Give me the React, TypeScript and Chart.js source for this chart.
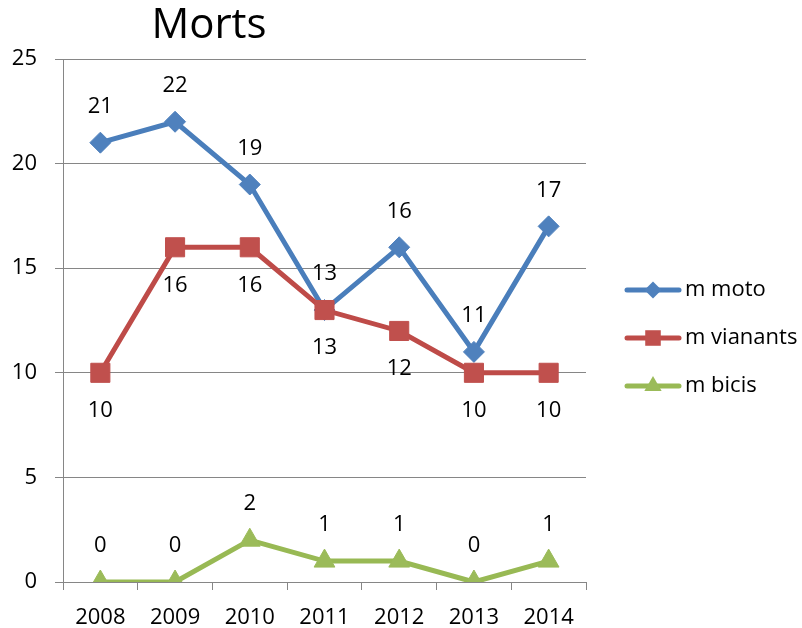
import React, { useEffect, useRef } from 'react';
import { Chart, registerables } from 'chart.js';

Chart.register(...registerables);

const chartTitle = 'Morts';
const years = ['2008', '2009', '2010', '2011', '2012', '2013', '2014'];
const seriesNames = ['m moto', 'm vianants', 'm bicis'];
const moto = [21, 22, 19, 13, 16, 11, 17];
const vianants = [10, 16, 16, 13, 12, 10, 10];
const bicis = [0, 0, 2, 1, 1, 0, 1];
const yMin = 0;
const yMax = 25;
const yStep = 5;

const FONT = "'Open Sans', 'Liberation Sans', sans-serif";
const lineColors = ['#4A7EBB', '#BE4B48', '#98B954'];
const markerColors = ['#4F81BD', '#C0504D', '#9BBB59'];
const pointStyles = ['rectRot', 'rect', 'triangle'];
const pointRadii = [10.5, 13.5, 12];
const labelOffsets = [-36, 38, -36];
const GRID = '#868686';

function drawMarker(ctx: CanvasRenderingContext2D, style: string, x: number, y: number, r: number) {
  ctx.beginPath();
  if (style === 'rectRot') {
    ctx.moveTo(x - r, y);
    ctx.lineTo(x, y - r);
    ctx.lineTo(x + r, y);
    ctx.lineTo(x, y + r);
  } else if (style === 'rect') {
    const s = Math.SQRT1_2 * r;
    ctx.rect(x - s, y - s, 2 * s, 2 * s);
  } else {
    let a = 0;
    ctx.moveTo(x + Math.sin(a) * r, y - Math.cos(a) * r);
    a += (2 * Math.PI) / 3;
    ctx.lineTo(x + Math.sin(a) * r, y - Math.cos(a) * r);
    a += (2 * Math.PI) / 3;
    ctx.lineTo(x + Math.sin(a) * r, y - Math.cos(a) * r);
  }
  ctx.closePath();
  ctx.fill();
}

const titlePlugin = {
  id: 'customTitle',
  afterDraw(chart: any) {
    const ctx = chart.ctx as CanvasRenderingContext2D;
    ctx.save();
    ctx.font = `42px ${FONT}`;
    ctx.fillStyle = '#000';
    ctx.textAlign = 'center';
    ctx.textBaseline = 'alphabetic';
    ctx.fillText(chartTitle, 209, 38);
    ctx.restore();
  },
};

const legendPlugin = {
  id: 'customLegend',
  afterDraw(chart: any) {
    const ctx = chart.ctx as CanvasRenderingContext2D;
    const ys = [290, 338, 386];
    ctx.save();
    chart.data.datasets.forEach((ds: any, i: number) => {
      const y = ys[i];
      ctx.strokeStyle = lineColors[i];
      ctx.lineWidth = 5;
      ctx.lineCap = 'round';
      ctx.beginPath();
      ctx.moveTo(627, y);
      ctx.lineTo(679, y);
      ctx.stroke();
      ctx.fillStyle = markerColors[i];
      drawMarker(ctx, pointStyles[i], 653, y, [8.5, 11, 10][i]);
      ctx.fillStyle = '#000';
      ctx.font = `22px ${FONT}`;
      ctx.textAlign = 'left';
      ctx.textBaseline = 'middle';
      ctx.fillText(ds.label, 685, y);
    });
    ctx.restore();
  },
};

const dataLabelPlugin = {
  id: 'dataLabels',
  afterDatasetsDraw(chart: any) {
    const ctx = chart.ctx as CanvasRenderingContext2D;
    ctx.save();
    ctx.font = `22px ${FONT}`;
    ctx.fillStyle = '#000';
    ctx.textAlign = 'center';
    ctx.textBaseline = 'middle';
    chart.data.datasets.forEach((ds: any, i: number) => {
      const meta = chart.getDatasetMeta(i);
      meta.data.forEach((pt: any, j: number) => {
        ctx.fillText(String(ds.data[j]), pt.x, pt.y + labelOffsets[i]);
      });
    });
    ctx.restore();
  },
};

export default function App() {
  const ref = useRef<HTMLCanvasElement>(null);

  useEffect(() => {
    if (!ref.current) return;
    const series = [moto, vianants, bicis];
    const chart = new Chart(ref.current, {
      type: 'line',
      data: {
        labels: years,
        datasets: series.map((d, i) => ({
          label: seriesNames[i],
          data: d,
          borderColor: lineColors[i],
          backgroundColor: markerColors[i],
          borderWidth: 5,
          pointStyle: pointStyles[i] as any,
          pointRadius: pointRadii[i],
          pointBackgroundColor: markerColors[i],
          pointBorderColor: markerColors[i],
          pointBorderWidth: 1,
          tension: 0,
          fill: false,
          order: 3 - i,
        })),
      },
      options: {
        animation: false,
        responsive: false,
        devicePixelRatio: 1,
        layout: { padding: { left: 0, top: 59, right: 216, bottom: 0 } },
        plugins: {
          legend: { display: false },
          title: { display: false },
          tooltip: { enabled: false },
        },
        scales: {
          x: {
            type: 'category',
            offset: true,
            grid: {
              display: true,
              offset: true,
              drawOnChartArea: false,
              drawTicks: true,
              tickLength: 8,
              color: GRID,
              lineWidth: 1,
            },
            border: { display: true, color: GRID, width: 1 },
            ticks: {
              color: '#000',
              font: { family: FONT, size: 22 },
              padding: 15,
              maxRotation: 0,
              autoSkip: false,
            },
            afterFit: (s: any) => {
              s.height = 46;
            },
          },
          y: {
            min: yMin,
            max: yMax,
            grid: {
              color: GRID,
              lineWidth: 1,
              drawTicks: true,
              tickLength: 8,
            },
            border: { display: true, color: GRID, width: 1 },
            ticks: {
              stepSize: yStep,
              color: '#000',
              font: { family: FONT, size: 22 },
              padding: 18,
            },
            afterFit: (s: any) => {
              s.width = 63;
            },
          },
        },
      },
      plugins: [titlePlugin, legendPlugin, dataLabelPlugin],
    });
    return () => chart.destroy();
  }, []);

  return (
    <div style={{ position: 'absolute', left: 0, top: 0, width: 802, height: 628, background: '#fff' }}>
      <canvas ref={ref} width={802} height={628} style={{ display: 'block', width: 802, height: 628 }} />
    </div>
  );
}
